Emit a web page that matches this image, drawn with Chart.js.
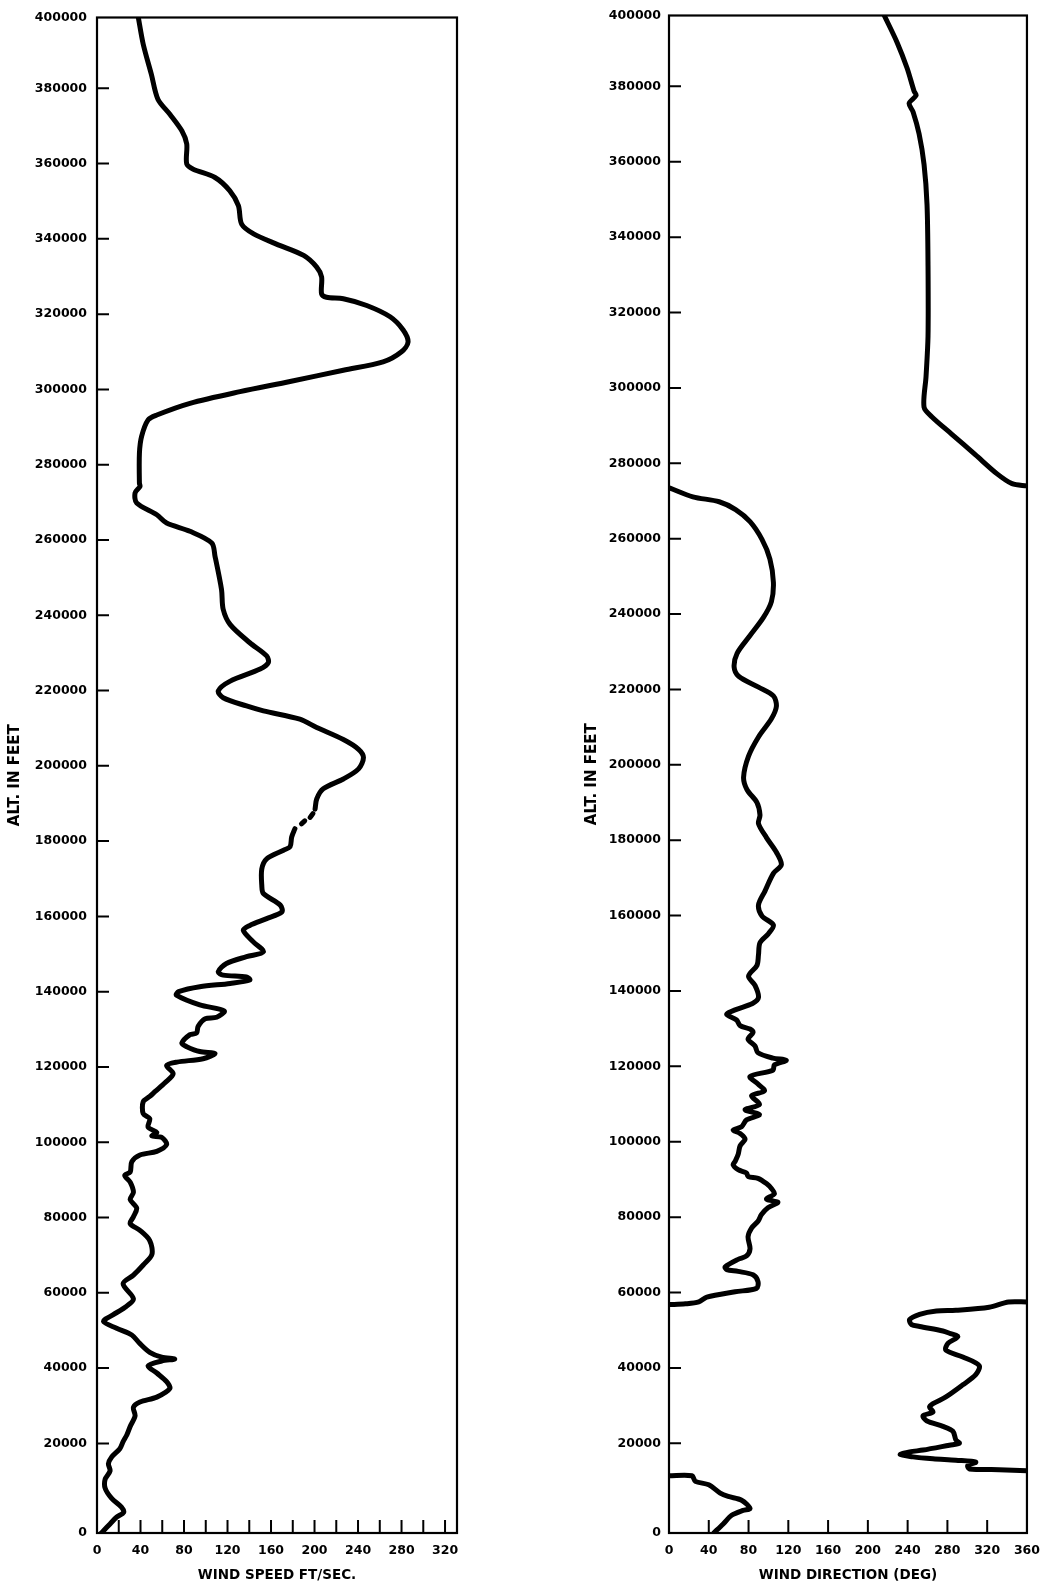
<!DOCTYPE html>
<html>
<head>
<meta charset="utf-8">
<script src="https://cdn.jsdelivr.net/npm/chart.js@4.4.1/dist/chart.umd.min.js"></script>
<style>
  body { margin: 0; background: #fff; width: 1050px; height: 1588px; position: relative; overflow: hidden; }
  canvas { position: absolute; top: 0; }
</style>
</head>
<body>
<canvas id="speed" width="577" height="1588" style="left:0"></canvas>
<canvas id="direction" width="473" height="1588" style="left:577px"></canvas>
<script>
"use strict";

// altitude axis: the drawn frame runs a little past 0 and short of 400000
const altMin = -3800;
const altMax = 398800;
const altTicks = [0, 20000, 40000, 60000, 80000, 100000, 120000, 140000, 160000, 180000, 200000,
  220000, 240000, 260000, 280000, 300000, 320000, 340000, 360000, 380000, 400000];
const speedTicks = [0, 20, 40, 60, 80, 100, 120, 140, 160, 180, 200, 220, 240, 260, 280, 300, 320];
const dirTicks = [0, 40, 80, 120, 160, 200, 240, 280, 320, 360];

// wind speed profile (null = gap in the trace)
const speedAlt = [
  398800, 391700, 383700, 377100, 373100, 368700, 365200, 359900, 358500, 356300,
  352800, 348800, 343900, 341300, 338600, 335600, 332500, 329900, 325400, 324500,
  324100, 322300, 319300, 315800, 312600, 310000, 307300, 305100, 302100, 299400,
  296300, 293200, 291900, 287500, 283000, 275100, 274200, 272500, 269800, 266700,
  264500, 262300, 259200, 255700, 246800, 241600, 237500, 232700, 229200, 227400,
  225700, 222500, 219900, 218100, 215900, 214600, 212400, 210200, 207000, 204400,
  202200, 199200, 196500, 193900, 191200, 188500, null, 187300, 186300, null,
  185400, 184600, null, 183300, 181100, 178500, 177600, 175300, 172600, 168300,
  166100, 163000, 161200, 159400, 157600, 156300, 153300, 150600, 149300, 147500,
  145300, 144400, 143900, 143100, 142200, 141300, 140000, 139100, 136500, 134900,
  133200, 132800, 130800, 129000, 128600, 126300, 125400, 124100, 123600, 122200,
  121300, 120400, 118200, 115800, 113500, 112200, 110800, 107600, 106300, 104000,
  102600, 101700, 101300, 99400, 97600, 96600, 94800, 92100, 91200, 89400,
  86700, 84800, 82500, 80200, 78400, 76600, 73900, 70200, 67400, 64700,
  62400, 58400, 56100, 54200, 52400, 50600, 48800, 46500, 44200, 42900,
  42400, 41900, 40600, 38700, 36400, 34600, 32300, 31000, 29600, 27300,
  24500, 22300, 20500, 18600, 16400, 14600, 12700, 10500, 8100, 5400,
  3100, 1700, 400, -1400, -3200, -3800
];
const speedVal = [
  38, 42.5, 50, 56, 67, 78, 82.5, 82.5, 88.5, 108.5,
  122, 130, 133, 144, 165, 190, 202, 206.5, 206.5, 211,
  226.5, 248, 269.5, 281.5, 286, 280, 263, 226.5, 177.5, 131.5,
  85.5, 55, 47, 41, 39, 39, 39.5, 35, 36.5, 55,
  64, 85.5, 105.5, 108.5, 114.5, 116, 122.5, 140.5, 156, 157.5,
  150, 122.5, 111.5, 116, 137.5, 153, 186.5, 202, 226.5, 240.5,
  245, 240.5, 226.5, 208, 202, 200.5, null, 198.5, 196, null,
  191, 188, null, 182, 179, 177.5, 171.5, 156, 151.5, 151.5,
  153, 168.5, 170, 156, 140.5, 134.5, 143.5, 153, 137.5, 119,
  111.5, 116, 137.5, 140.5, 122.5, 94.5, 75, 73, 94.5, 117,
  110, 99.5, 93, 91.5, 85.5, 78, 82.5, 94.5, 108.5, 97.5,
  73.5, 64, 70, 62.5, 53.5, 48.5, 42.5, 42.5, 48.5, 47,
  55, 50.5, 59.5, 64, 55, 39.5, 32, 30.5, 25.5, 30.5,
  33.5, 30.5, 36.5, 33.5, 30.5, 39.5, 48.5, 50.5, 42.5, 33.5,
  24, 33.5, 25.5, 15, 6, 18, 32, 39.5, 48.5, 59.5,
  71.5, 59.5, 47, 55, 64, 67, 55, 39.5, 33.5, 35,
  30.5, 27.5, 24, 21, 13.5, 10.5, 12, 7.5, 7.5, 13.5,
  22.5, 24.5, 18, 12, 6, 4
];

// wind direction profile (null = wrap between 360 and 0)
const dirAlt = [
  398800, 391600, 384800, 378700, 377600, 375500, 373200, 367400, 359300, 348600,
  332500, 313700, 303000, 294900, 292300, 287700, 282300, 277200, 274600, 274000,
  null,
  273400, 271100, 269800, 267700, 264500, 259800, 254600, 248400, 243300, 239100,
  234300, 229600, 225900, 223500, 220600, 218300, 215500, 212200, 207400, 202300,
  196700, 193400, 190000, 186700, 184400, 180700, 176800, 173500, 171200, 166500,
  162800, 159900, 157500, 155200, 152800, 149600, 146800, 143900, 141500, 138300,
  136700, 135000, 133800, 132300, 130800, 129900, 129000, 127200, 125400, 123600,
  122200, 121600, 120400, 119000, 117300, 115300, 113500, 112200, 109900, 108500,
  107200, 105800, 104000, 103100, 102200, 100700, 98900, 96600, 94800, 93900,
  92600, 91700, 90800, 90300, 88900, 87600, 86200, 84800, 84300, 83900,
  82500, 80700, 78900, 77100, 74800, 71600, 69700, 68800, 66800, 66100,
  65600, 64700, 62900, 61100, 60200, 58800, 57500, 57000, 56800,
  null,
  57500, 57500, 56100, 55300, 55100, 54200, 52800, 51500, 51000, 49800,
  49200, 48300, 46500, 44700, 42900, 40600, 38200, 35500, 32300, 30500,
  29600, 28300, 27300, 26000, 24500, 23200, 20900, 20000, 19500, 18200,
  17700, 17000, 16400, 15900, 15500, 15000, 14100, 13200, 13000, 12700,
  null,
  11400, 11400, 9900, 9000, 6800, 5900, 4900, 2700, 2200, 900,
  -1400, -3800
];
const dirVal = [
  216.5, 229.5, 239.5, 246.5, 248.5, 241.5, 245.5, 251.5, 256.5, 259.5,
  260.5, 260.5, 258.5, 256.5, 264.5, 284.5, 308, 330, 345, 360,
  null,
  1, 24, 50.5, 67, 81.5, 93.5, 101.5, 105, 103, 95,
  81.5, 68.5, 65.5, 70, 90, 105, 108, 103, 90, 80,
  75, 78.5, 88.5, 91.5, 90, 98, 108, 113, 105, 96.5,
  90, 93.5, 105, 100, 91.5, 90, 88.5, 80, 86.5, 90,
  84, 66.5, 58, 68, 71.5, 81.5, 84.5, 79.5, 86.5, 89.5,
  104.5, 118, 106, 104.5, 81.5, 89.5, 96, 83, 91, 76.5,
  91, 78, 73, 64.5, 71.5, 76.5, 71.5, 69.5, 66.5, 64.5,
  69.5, 78, 79.5, 89.5, 98, 103, 106, 98, 104.5, 109.5,
  99.5, 93, 89.5, 83, 79.5, 81.5, 78, 69.5, 56.5, 58,
  69.5, 84.5, 89.5, 88, 66.5, 38, 30, 16.5, 0,
  null,
  360, 341.5, 322, 288.5, 269, 252, 242, 244, 252, 275.5,
  282, 290.5, 280.5, 278.5, 295.5, 312, 308.5, 295.5, 278.5, 265.5,
  262, 265.5, 255.5, 259, 275.5, 285.5, 288.5, 292, 282, 255.5,
  242, 232.5, 245.5, 265.5, 288.5, 308.5, 300.5, 302, 332, 360,
  null,
  0, 23, 26.5, 40, 51.5, 59.5, 73, 81.5, 74.5, 63,
  54.5, 45
];

const tickFont = { family: 'DejaVu Sans', size: 12.5, weight: 'bold' };
const titleFont = { family: 'DejaVu Sans', size: 13.5, weight: 'bold' };
const yTitleFont = { family: 'DejaVu Sans', size: 15, weight: 'bold' };

function segments(alts, vals) {
    const out = [[]];
    alts.forEach(function(a, i) {
        if (a === null || vals[i] === null) { out.push([]); return; }
        out[out.length - 1].push({ x: vals[i], y: a });
    });
    return out.filter(function(s) { return s.length > 1; });
}

// frame round the plot area plus short inward tick marks
const frameTicks = {
    id: 'frameTicks',
    afterDraw(chart) {
        const ctx = chart.ctx;
        const a = chart.chartArea;
        const xs = chart.scales.x, ys = chart.scales.y;
        ctx.save();
        ctx.strokeStyle = '#000';
        ctx.lineWidth = 2.2;
        ctx.strokeRect(a.left, a.top, a.right - a.left, a.bottom - a.top);
        ctx.lineWidth = 2;
        ctx.beginPath();
        ys.ticks.forEach(function(t) {
            if (t.value <= ys.min || t.value >= ys.max) return;
            const py = ys.getPixelForValue(t.value);
            ctx.moveTo(a.left, py);
            ctx.lineTo(a.left + 12, py);
        });
        xs.ticks.forEach(function(t) {
            if (t.value <= xs.min || t.value >= xs.max) return;
            const px = xs.getPixelForValue(t.value);
            ctx.moveTo(px, a.bottom);
            ctx.lineTo(px, a.bottom - 13);
        });
        ctx.stroke();
        ctx.restore();
    }
};

function makeChart(canvas, segs, xMax, xTicks, xLabelStep, xTitle, yWidth, yPad, padRight) {
    return new Chart(canvas, {
        type: 'scatter',
        data: {
            datasets: segs.map(function(s) {
                return {
                    data: s,
                    showLine: true,
                    borderColor: '#000',
                    borderWidth: 5,
                    borderCapStyle: 'round',
                    borderJoinStyle: 'round',
                    pointRadius: 0,
                    tension: 0.3
                };
            })
        },
        options: {
            responsive: false,
            animation: false,
            layout: { padding: { top: 13, left: 0, right: padRight, bottom: 0 } },
            plugins: { legend: { display: false }, tooltip: { enabled: false } },
            scales: {
                x: {
                    type: 'linear',
                    min: 0,
                    max: xMax,
                    afterBuildTicks: function(s) { s.ticks = xTicks.map(function(v) { return { value: v }; }); },
                    afterFit: function(s) { s.height = 55; },
                    ticks: {
                        autoSkip: false,
                        maxRotation: 0,
                        padding: 10,
                        color: '#000',
                        font: tickFont,
                        callback: function(v) { return v % xLabelStep === 0 ? String(v) : ''; }
                    },
                    grid: { display: false, drawTicks: false },
                    border: { display: false },
                    title: { display: true, text: xTitle, color: '#000', font: titleFont, padding: { top: 0, bottom: 4 } }
                },
                y: {
                    type: 'linear',
                    min: altMin,
                    max: altMax,
                    // first and last labels sit on the frame corners, as on the original sheet
                    afterBuildTicks: function(s) {
                        const last = altTicks.length - 1;
                        s.ticks = altTicks.map(function(v, i) {
                            if (i === 0) return { value: s.min };
                            if (i === last) return { value: s.max };
                            return { value: v };
                        });
                    },
                    afterFit: function(s) { s.width = yWidth; },
                    ticks: {
                        autoSkip: false,
                        padding: yPad,
                        color: '#000',
                        font: tickFont,
                        callback: function(v, i) { return String(altTicks[i]); }
                    },
                    grid: { display: false, drawTicks: false },
                    border: { display: false },
                    title: { display: true, text: 'ALT. IN FEET', color: '#000', font: yTitleFont, padding: { top: 6, bottom: 0 } }
                }
            }
        },
        plugins: [frameTicks]
    });
}

makeChart(document.getElementById('speed'), segments(speedAlt, speedVal),
    331, speedTicks, 40, 'WIND SPEED FT/SEC.', 97, 10, 120);
makeChart(document.getElementById('direction'), segments(dirAlt, dirVal),
    360, dirTicks, 40, 'WIND DIRECTION (DEG)', 92, 8, 17);
</script>
</body>
</html>
